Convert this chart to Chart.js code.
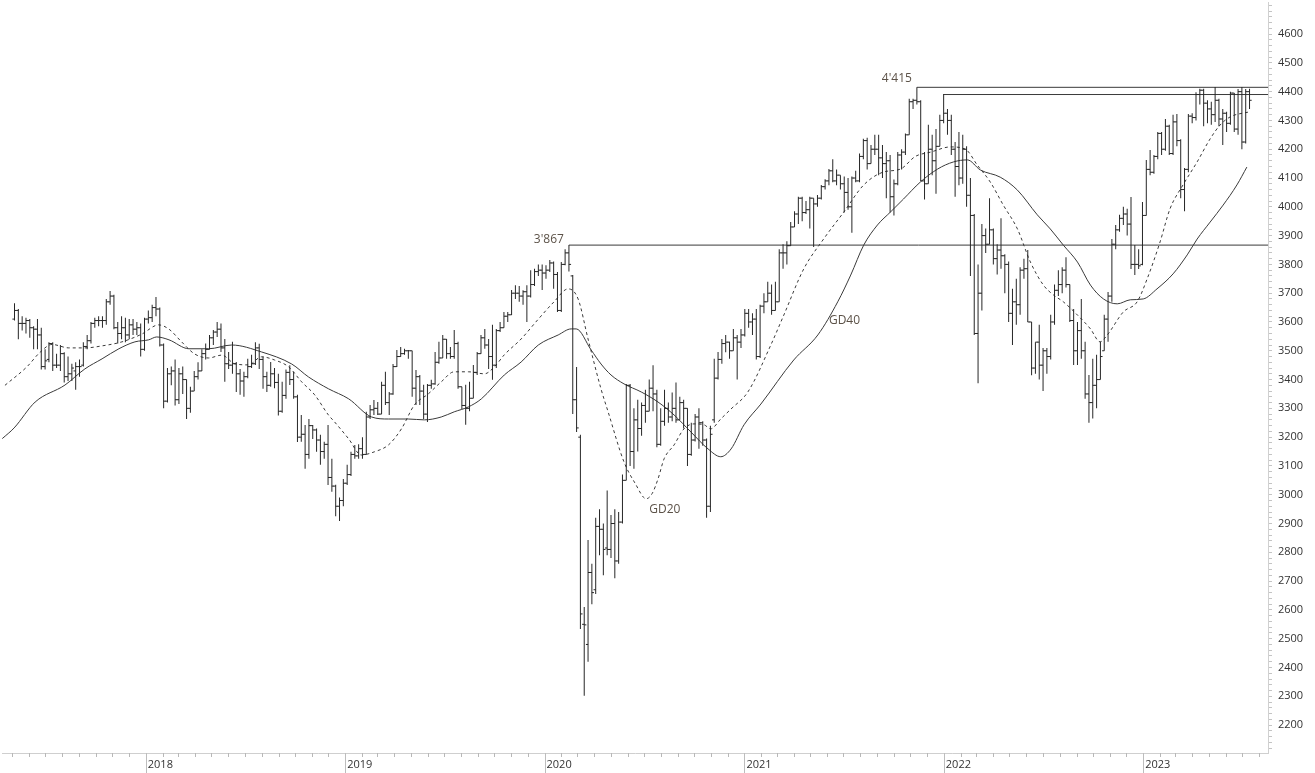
<!DOCTYPE html>
<html>
<head>
<meta charset="utf-8">
<script src="https://cdn.jsdelivr.net/npm/chart.js@4.4.1/dist/chart.umd.min.js"></script>
<style>
html,body{margin:0;padding:0;background:#fff;}
canvas{display:block;}
</style>
</head>
<body>
<canvas id="c" width="1315" height="773"></canvas>
<script>
// Weekly bars, first week ending 2017-05-12 (index 0), one row per month
const firstWeek = '2017-05-12';
const open = [
// 2017
3610,3640,3595,
3595,3605,3580,3575,3555,
3445,3470,3525,3450,
3450,3490,3410,3420,
3430,3445,3450,3515,3535,
3595,3605,3605,3605,
3670,3690,3580,3560,
3580,3555,3590,3575,3580,
// 2018
3505,3610,3615,3650,
3645,3520,3325,3420,
3430,3330,3420,3400,3300,
3360,3410,3430,3490,
3505,3545,3565,3575,
3510,3455,3450,3455,3420,
3395,3410,3445,3455,
3510,3470,3410,3380,3420,
3390,3290,3345,3425,
3400,3340,3200,3210,
3140,3240,3225,3190,3150,
3175,3060,3030,2960,
// 2019
2980,3040,3070,3140,
3135,3160,3140,3270,
3295,3300,3280,3380,3320,
3350,3445,3480,3490,
3500,3500,3370,3410,3360,
3280,3380,3385,3460,
3475,3540,3490,3480,
3525,3375,3310,3300,3335,
3425,3490,3545,3520,
3480,3450,3570,3580,
3620,3625,3700,3700,3690,
3705,3690,3730,3775,
// 2020
3780,3770,3780,3805,3765,
3640,3800,3840,3760,
3330,3200,2550,2480,
2730,2670,2890,2880,
2815,2810,2900,2770,2905,
3050,3380,3150,3260,
3230,3310,3290,3370,3350,
3175,3255,3300,3270,
3300,3260,3320,3300,
3140,3190,3270,3250,3190,
2960,3260,3405,3470,
3525,3530,3500,3545,
// 2021
3530,3555,3630,3600,3610,
3480,3655,3670,3700,
3640,3670,3840,3840,
3865,3930,3975,4030,3980,
3990,4030,4010,4030,
4070,4090,4125,4090,
4110,4080,4050,4000,4100,
4090,4175,4230,4150,
4200,4200,4170,4150,
4160,4035,4080,4180,4190,
4250,4365,4370,4365,
4090,4080,4200,4160,4210,
// 2022
4300,4325,4300,4200,
4140,4100,4200,4040,
3970,3560,3700,3900,
3870,3920,3820,3850,3830,
3800,3630,3670,3660,
3780,3785,3600,3440,
3530,3450,3500,3480,3600,
3710,3730,3780,3730,
3605,3500,3570,3500,3350,
3320,3380,3400,3500,
3610,3690,3870,3920,
3960,3975,3940,3800,3800,
// 2023
3800,3970,4130,4120,
4175,4255,4200,4280,
4185,4295,4230,4060,4130,
4315,4310,4390,4405,
4360,4340,4320,4370,
4305,4325,4290,4395,4270,
4400,4225,4400
];
const high = [
// 2017
3665,3645,3620,
3615,3610,3585,3610,3580,
3505,3530,3530,3490,
3520,3495,3480,3455,
3460,3470,3530,3555,3600,
3615,3620,3620,3680,
3708,3695,3600,3620,
3615,3610,3610,3600,3595,
// 2018
3615,3640,3660,3687,
3650,3525,3440,3445,
3470,3440,3445,3400,3375,
3430,3460,3505,3525,
3555,3572,3600,3595,
3541,3496,3531,3461,3437,
3427,3472,3486,3530,
3524,3480,3427,3461,3440,
3420,3392,3435,3450,
3427,3347,3277,3242,
3263,3242,3230,3208,3184,
3242,3125,3035,2990,
// 2019
3055,3104,3149,3173,
3175,3200,3288,3312,
3329,3322,3392,3427,3357,
3454,3503,3513,3507,
3503,3500,3433,3416,3382,
3385,3399,3496,3531,
3555,3541,3513,3572,
3531,3375,3382,3392,3451,
3496,3555,3576,3541,
3590,3576,3600,3635,
3635,3711,3728,3725,3710,
3728,3780,3785,3800,
// 2020
3800,3797,3815,3810,3774,
3808,3853,3867,3763,
3444,3208,2610,2843,
2760,2920,2950,2900,
3015,2930,2950,2940,3070,
3385,3385,3300,3330,
3320,3365,3400,3450,3365,
3300,3365,3320,3355,
3390,3340,3330,3300,
3250,3280,3300,3255,3195,
3240,3472,3496,3541,
3555,3531,3576,3555,
// 2021
3576,3645,3645,3630,3645,
3660,3700,3740,3730,
3740,3853,3870,3880,
3947,3985,4035,4035,4020,
4035,4030,4041,4076,
4096,4131,4165,4130,
4110,4105,4100,4105,4125,
4185,4236,4240,4215,
4250,4250,4215,4190,
4180,4095,4190,4200,4255,
4375,4375,4415,4370,
4190,4285,4250,4270,4320,
// 2022
4392,4340,4320,4225,
4260,4250,4210,4100,
3975,3800,3940,3925,
4030,3925,3870,3960,3835,
3810,3715,3750,3790,
3820,3850,3600,3530,
3590,3510,3510,3625,3730,
3780,3790,3825,3730,
3645,3600,3680,3531,3416,
3472,3486,3531,3625,
3704,3888,3937,3972,
4000,3993,4034,3867,3853,
// 2023
4017,4163,4197,4180,
4260,4260,4305,4285,
4320,4322,4235,4135,4322,
4325,4398,4410,4410,
4370,4365,4416,4375,
4340,4330,4400,4395,4409,
4416,4409,4410
];
const low = [
// 2017
3605,3540,3570,
3560,3545,3505,3505,3435,
3435,3460,3430,3440,
3430,3390,3395,3395,
3365,3410,3445,3505,3525,
3580,3585,3580,3590,
3660,3575,3525,3540,
3530,3540,3555,3555,3480,
// 2018
3500,3595,3600,3620,
3515,3300,3320,3380,
3310,3315,3350,3263,3285,
3360,3400,3430,3470,
3505,3520,3548,3496,
3392,3437,3420,3357,3347,
3340,3405,3440,3451,
3437,3368,3357,3375,3370,
3275,3285,3333,3381,
3333,3183,3184,3090,
3125,3194,3149,3104,3125,
3034,3010,2925,2909,
// 2019
2960,3034,3065,3125,
3125,3125,3140,3263,
3277,3277,3280,3312,3277,
3347,3444,3479,3486,
3472,3340,3312,3312,3263,
3253,3368,3382,3455,
3475,3472,3472,3472,
3368,3298,3243,3290,3335,
3416,3490,3507,3437,
3399,3440,3565,3580,
3600,3624,3680,3670,3660,
3600,3685,3725,3760,
// 2020
3711,3750,3774,3715,3635,
3635,3797,3775,3280,
3218,2534,2302,2420,
2620,2655,2790,2720,
2790,2780,2710,2760,2900,
3050,3100,3090,3150,
3205,3250,3290,3290,3165,
3170,3240,3250,3255,
3250,3260,3230,3100,
3135,3185,3160,3170,2920,
2940,3250,3400,3455,
3495,3472,3500,3400,
// 2021
3510,3550,3580,3555,3470,
3475,3630,3670,3625,
3640,3670,3785,3800,
3865,3930,3940,3950,3975,
3925,3860,4000,4025,
4060,4075,4085,4075,
4060,3980,3990,3910,4085,
4085,4165,4130,4150,
4180,4110,4100,4030,
3980,3970,4075,4130,4180,
4250,4340,4355,4090,
4025,4080,4110,4045,4210,
// 2022
4290,4250,4180,4035,
4075,4080,4000,3760,
3555,3387,3640,3840,
3870,3800,3765,3785,3700,
3600,3520,3590,3625,
3750,3600,3415,3420,
3400,3360,3420,3470,3590,
3690,3700,3720,3600,
3451,3451,3472,3333,3250,
3265,3300,3400,3500,
3531,3670,3853,3913,
3937,3900,3784,3763,3784,
// 2023
3797,3970,4110,4115,
4165,4180,4195,4180,
4180,4210,4030,3985,4120,
4290,4300,4355,4280,
4290,4285,4295,4280,
4215,4260,4285,4260,4250,
4200,4220,4340
];
const close = [
// 2017
3640,3595,3595,
3605,3580,3575,3555,3445,
3465,3525,3450,3450,
3490,3410,3420,3440,
3445,3445,3515,3535,3595,
3605,3605,3605,3670,
3690,3580,3560,3580,
3555,3590,3575,3580,3505,
// 2018
3610,3615,3650,3645,
3520,3325,3420,3430,
3330,3420,3400,3300,3360,
3410,3430,3490,3505,
3545,3565,3575,3510,
3455,3450,3455,3420,3395,
3410,3445,3455,3510,
3470,3410,3380,3420,3390,
3290,3345,3425,3400,
3340,3200,3210,3140,
3240,3225,3190,3150,3175,
3060,3030,2960,2980,
// 2019
3040,3070,3140,3135,
3160,3140,3270,3295,
3300,3280,3380,3320,3350,
3445,3480,3490,3500,
3500,3370,3410,3360,3280,
3380,3385,3460,3475,
3540,3490,3480,3525,
3375,3310,3300,3335,3425,
3490,3545,3520,3480,
3450,3570,3580,3620,
3625,3700,3700,3690,3705,
3690,3730,3775,3780,
// 2020
3770,3780,3805,3765,3640,
3800,3840,3800,3330,
3232,2586,2548,2730,
2660,2890,2880,2810,
2810,2900,2770,2905,3050,
3380,3150,3260,3230,
3310,3290,3370,3350,3175,
3255,3300,3270,3300,
3260,3320,3300,3140,
3190,3270,3250,3190,2960,
3210,3405,3470,3525,
3530,3500,3545,3530,
// 2021
3555,3630,3600,3610,3480,
3655,3670,3700,3640,
3670,3840,3840,3865,
3930,3975,4030,3980,3990,
4030,4010,4030,4070,
4090,4125,4090,4110,
4080,4050,4000,4100,4090,
4175,4230,4150,4200,
4200,4170,4150,4160,
4035,4080,4180,4190,4250,
4365,4370,4365,4090,
4080,4200,4160,4210,4300,
// 2022
4325,4300,4200,4140,
4100,4200,4040,3970,
3560,3700,3900,3870,
3920,3820,3850,3830,3800,
3630,3670,3660,3780,
3785,3600,3440,3530,
3450,3500,3480,3600,3710,
3730,3780,3730,3605,
3500,3570,3500,3350,3320,
3380,3400,3480,3610,
3690,3870,3920,3960,
3975,3940,3800,3800,3795,
// 2023
3970,4130,4120,4175,
4255,4200,4280,4185,
4295,4230,4060,4130,4315,
4310,4390,4405,4360,
4340,4320,4370,4305,
4325,4290,4395,4270,4400,
4225,4400,4370
];

const gd20Week  = [-2.5,3.3,6.7,9.8,14.2,18.4,22.9,28.1,33.3,37.7,40.4,43.7,47.1,50.8,54.2,57.6,61.2,64.6,68,71.7,75.1,78.5,82.1,83.7,87.4,90.7,94.1,97.8,101.2,104.6,108.2,111.6,115,118.7,122.9,125.5,128.1,132.5,137,141.1,144.8,147.4,150,153.4,155.2,159.4,162.3,165.2,166.8,168.3,169.9,172.5,175.1,177.7,180.3,182.1,184.7,187.4,191.8,197.8,201.2,206.4,211.6,216.9,222.1,227.3,231.7,235.6,239.6,244.8,248.7,251.8,255.2,258.6,262.3,265.7,269.1,271.7,274.3,278,281.4,283.9,285.8,290,293.6,296.2,299.6,302.2,305.6,309.3,312.7,315.3,317.9,323];
const gd20Value = [3380,3445,3495,3522,3510,3510,3517,3531,3558,3590,3575,3531,3489,3475,3485,3455,3451,3479,3468,3444,3392,3347,3277,3253,3194,3138,3149,3173,3229,3312,3350,3392,3427,3427,3420,3444,3486,3541,3610,3670,3715,3680,3541,3367,3290,3114,3040,2986,3005,3055,3125,3173,3229,3246,3243,3229,3263,3298,3357,3520,3624,3784,3888,3982,4076,4121,4131,4175,4190,4208,4200,4145,4086,4006,3923,3808,3728,3694,3670,3624,3576,3531,3555,3635,3670,3749,3878,3993,4076,4156,4236,4284,4312,4330];
const gd40Week  = [-3.2,-0.1,5.4,13.2,18.4,22.9,27.3,31.5,35.1,37.2,40.4,45.6,50.8,56.8,64.6,72.5,76.9,82.1,87.4,93.4,97.8,103,107.2,111.6,115,118.7,122.1,128.1,132.5,137,142.2,145.6,146.9,150.8,153.4,156,159.4,163.9,168.3,172.5,176.9,181.4,184.7,187.4,190.8,195.2,203.8,210.1,215.3,218.7,222.1,225.7,229.1,232.5,236.9,241.4,245.6,249.2,252.6,257.8,262.3,267.5,270.9,274.3,278,281.4,284.8,288.4,291.8,295.2,298.8,303,306.7,309.3,312.7,316.1,319.7,322.3];
const gd40Value = [3195,3232,3322,3381,3437,3472,3507,3531,3538,3548,3538,3507,3507,3520,3496,3454,3409,3368,3333,3270,3263,3263,3260,3270,3288,3305,3333,3416,3461,3520,3555,3576,3576,3503,3454,3416,3385,3357,3322,3277,3218,3159,3132,3159,3243,3315,3468,3555,3670,3763,3867,3937,3982,4027,4086,4131,4156,4163,4128,4103,4058,3972,3923,3867,3808,3728,3680,3663,3677,3680,3715,3767,3833,3888,3947,4006,4076,4138];

// Horizontal resistance levels (value, first week, label)
const levelValues    = [3867, 4415, 4390];
const levelStartWeek = [145, 236, 243];
const levelLabels    = ["3'867", "4'415", ""];
const maLabels       = ["GD20", "GD40"];

// Tick labels
const yTickLabels = [2200,2300,2400,2500,2600,2700,2800,2900,3000,3100,3200,3300,3400,3500,3600,3700,3800,3900,4000,4100,4200,4300,4400,4500,4600];
const yearLabels  = ['2018','2019','2020','2021','2022','2023'];

// ---- layout helpers ----
const X_MIN = -3.245, X_MAX = 327.83;
const Y_MIN = 2103, Y_MAX = 4711;
const WEEK_MS = 7 * 24 * 3600 * 1000;
const T0 = Date.parse(firstWeek + 'T00:00:00Z');
const TICK_SHIFT = 0.9;
function weekPos(y, m) { return (Date.UTC(y, m, 1) - T0) / WEEK_MS + TICK_SHIFT; }

const INK = '#262626';
const TICK_DX = 0.27;

const datasets = [
  {
    type: 'bar',
    data: high.map((h, k) => ({ x: k, y: [low[k], h] })),
    backgroundColor: INK,
    borderWidth: 0,
    barThickness: 1,
    inflateAmount: 0,
    grouped: false
  },
  {
    type: 'line',
    data: open.map((o, k) => ({ x: k - TICK_DX, y: o })),
    showLine: false,
    pointStyle: 'line',
    pointRadius: 1.1,
    pointHoverRadius: 0,
    pointBorderColor: INK,
    pointBorderWidth: 1,
    borderColor: INK
  },
  {
    type: 'line',
    data: close.map((c, k) => ({ x: k + TICK_DX, y: c })),
    showLine: false,
    pointStyle: 'line',
    pointRadius: 1.1,
    pointHoverRadius: 0,
    pointBorderColor: INK,
    pointBorderWidth: 1,
    borderColor: INK
  },
  {
    type: 'line',
    data: gd20Week.map((w, i) => ({ x: w, y: gd20Value[i] })),
    borderColor: '#3a3a3a',
    borderWidth: 1,
    borderDash: [3, 3],
    pointRadius: 0,
    cubicInterpolationMode: 'monotone',
    fill: false
  },
  {
    type: 'line',
    data: gd40Week.map((w, i) => ({ x: w, y: gd40Value[i] })),
    borderColor: '#3a3a3a',
    borderWidth: 1,
    pointRadius: 0,
    cubicInterpolationMode: 'monotone',
    fill: false
  }
];
levelValues.forEach((v, i) => {
  datasets.push({
    type: 'line',
    data: [{ x: levelStartWeek[i], y: v }, { x: X_MAX, y: v }],
    borderColor: '#3a3a3a',
    borderWidth: 1,
    pointRadius: 0,
    fill: false
  });
});

const decor = {
  id: 'decor',
  afterDatasetsDraw(chart) {
    const { ctx, scales: { x, y } } = chart;
    ctx.save();
    ctx.fillStyle = '#5c5248';
    ctx.font = '12px "Open Sans"';
    ctx.textBaseline = 'alphabetic';
    ctx.textAlign = 'right';
    levelLabels.forEach((t, i) => {
      if (!t) return;
      const px = x.getPixelForValue(levelStartWeek[i]);
      const py = y.getPixelForValue(levelValues[i]);
      ctx.fillText(t, px - 5, py - (i === 0 ? 2.5 : 5));
    });
    ctx.textAlign = 'left';
    ctx.fillText(maLabels[0], x.getPixelForValue(166), y.getPixelForValue(2986) + 14);
    ctx.fillText(maLabels[1], x.getPixelForValue(213), y.getPixelForValue(3592));
    ctx.restore();
  },
  afterDraw(chart) {
    const { ctx, chartArea, scales: { x } } = chart;
    ctx.save();
    ctx.lineWidth = 1;
    for (let yy = 2017; yy <= 2023; yy++) {
      for (let m = 0; m < 12; m++) {
        const px = Math.round(x.getPixelForValue(weekPos(yy, m))) + 0.5;
        if (px < chartArea.left || px > chartArea.right) continue;
        const isYear = m === 0;
        ctx.strokeStyle = isYear ? '#bdbdbd' : '#b8b8b8';
        ctx.beginPath();
        ctx.moveTo(px, chartArea.bottom);
        ctx.lineTo(px, chartArea.bottom + (isYear ? 20 : 4));
        ctx.stroke();
      }
    }
    ctx.restore();
  }
};

Chart.defaults.font.family = "'Open Sans', sans-serif";

new Chart(document.getElementById('c'), {
  type: 'bar',
  data: { datasets },
  options: {
    responsive: false,
    animation: false,
    devicePixelRatio: 1,
    events: [],
    layout: { padding: 0 },
    plugins: { legend: { display: false }, tooltip: { enabled: false } },
    scales: {
      x: {
        type: 'linear',
        position: 'bottom',
        min: X_MIN,
        max: X_MAX,
        offset: false,
        grid: { display: false, drawTicks: false, offset: false },
        border: { display: true, color: '#cfcfcf', width: 1 },
        afterBuildTicks: s => { s.ticks = yearLabels.map(l => ({ value: weekPos(+l, 0) })); },
        ticks: {
          autoSkip: false, maxRotation: 0, minRotation: 0,
          align: 'start', labelOffset: 2, padding: 5,
          color: '#333', font: { size: 11 },
          callback: (v, i) => yearLabels[i]
        },
        afterFit: s => { s.height = 20; s.paddingLeft = 0; s.paddingRight = 0; }
      },
      y: {
        type: 'linear',
        position: 'right',
        min: Y_MIN,
        max: Y_MAX,
        afterBuildTicks: s => {
          const t = [];
          for (let v = 2120; v <= 4700; v += 20) t.push({ value: v });
          s.ticks = t;
        },
        grid: { drawOnChartArea: false, drawTicks: true, tickLength: 4, tickColor: '#c4c4c4' },
        border: { display: true, color: '#d0d0d0', width: 1 },
        ticks: {
          autoSkip: false, padding: 6, color: '#333', font: { size: 11 },
          callback: v => (yTickLabels.includes(v) ? String(v) : '')
        },
        afterFit: s => { s.width = 47; s.paddingTop = 0; s.paddingBottom = 0; }
      }
    }
  },
  plugins: [decor]
});
</script>
</body>
</html>
